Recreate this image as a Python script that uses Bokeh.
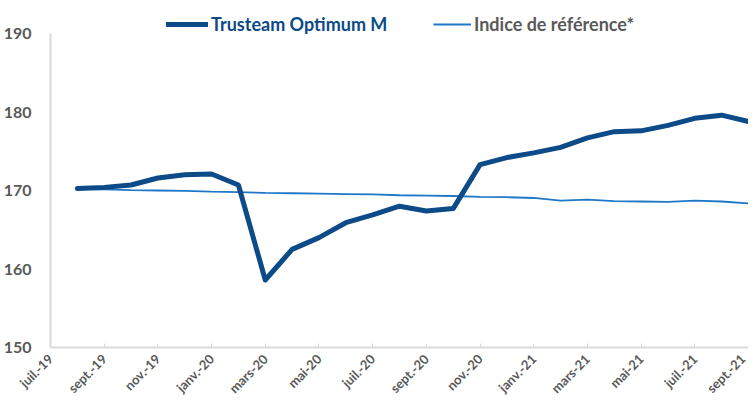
import math
from bokeh.plotting import figure
from bokeh.models import Range1d, FixedTicker, Legend, LegendItem, ColumnDataSource
from bokeh.embed import file_html
from bokeh.resources import INLINE

# Tick labels (every two months, starting juil.-19)
tick_labels = ["juil.-19", "sept.-19", "nov.-19", "janv.-20", "mars-20", "mai-20", "juil.-20",
               "sept.-20", "nov.-20", "janv.-21", "mars-21", "mai-21", "juil.-21", "sept.-21"]
y_ticks = [150, 160, 170, 180, 190]

# Monthly observations (août-19 .. sept.-21)
months = ["août-19", "sept.-19", "oct.-19", "nov.-19", "déc.-19", "janv.-20", "févr.-20", "mars-20",
          "avr.-20", "mai-20", "juin-20", "juil.-20", "août-20", "sept.-20", "oct.-20", "nov.-20",
          "déc.-20", "janv.-21", "févr.-21", "mars-21", "avr.-21", "mai-21", "juin-21", "juil.-21",
          "août-21", "sept.-21"]
fund = [170.25, 170.4, 170.7, 171.6, 172.0, 172.1, 170.7, 158.6, 162.5, 164.0, 165.9, 166.9,
        168.0, 167.4, 167.7, 173.3, 174.2, 174.8, 175.5, 176.7, 177.5, 177.6, 178.3, 179.2,
        179.6, 178.8]
benchmark = [170.2, 170.15, 170.05, 170.0, 169.95, 169.85, 169.8, 169.7, 169.65, 169.6, 169.55,
             169.5, 169.4, 169.35, 169.3, 169.2, 169.15, 169.05, 168.7, 168.85, 168.65, 168.6,
             168.55, 168.7, 168.6, 168.35]

# x position: month index counted from juil.-19
x = [i + 1 for i in range(len(months))]
src = ColumnDataSource(dict(x=x, fund=fund, bench=benchmark, month=months))

DARK = "#0C4A88"
LIGHT = "#1E78C8"
GRAY = "#595959"
FONT = "Lato"

p = figure(width=748, height=405, output_backend="svg", toolbar_location=None,
           x_range=Range1d(0, 26.0), y_range=Range1d(150, 193.7),
           min_border_left=48, min_border_right=0, min_border_top=4, min_border_bottom=58)
p.outline_line_color = None
p.background_fill_color = "white"
p.border_fill_color = "white"
p.xgrid.visible = False
p.ygrid.visible = False

r_b = p.line("x", "bench", source=src, line_color=LIGHT, line_width=1.8)
r_f = p.line("x", "fund", source=src, line_color=DARK, line_width=5, line_join="round", line_cap="round")

# y axis
p.yaxis.ticker = FixedTicker(ticks=y_ticks)
p.yaxis.bounds = (y_ticks[0], y_ticks[-1])
p.yaxis.axis_line_color = "#D9D9D9"
p.yaxis.axis_line_width = 2
p.yaxis.major_tick_line_color = None
p.yaxis.minor_tick_line_color = None
p.yaxis.major_label_text_font = FONT
p.yaxis.major_label_text_font_style = "bold"
p.yaxis.major_label_text_font_size = "16px"
p.yaxis.major_label_text_color = GRAY
p.yaxis.major_label_standoff = 13

# x axis
xt = list(range(0, 27, 2))
p.xaxis.ticker = FixedTicker(ticks=xt)
p.xaxis.major_label_overrides = {t: lab for t, lab in zip(xt, tick_labels)}
p.xaxis.major_label_orientation = math.pi / 4
p.xaxis.axis_line_color = "#D9D9D9"
p.xaxis.axis_line_width = 2
p.xaxis.major_tick_line_color = "#D9D9D9"
p.xaxis.major_tick_in = 4
p.xaxis.major_tick_out = 0
p.xaxis.minor_tick_line_color = None
p.xaxis.major_label_text_font = FONT
p.xaxis.major_label_text_font_style = "bold"
p.xaxis.major_label_text_font_size = "13px"
p.xaxis.major_label_text_color = GRAY
p.xaxis.major_label_standoff = 9

def make_legend(label, renderer, color, loc, gw):
    lg = Legend(items=[LegendItem(label=label, renderers=[renderer])], location=loc,
                orientation="horizontal", border_line_color=None, background_fill_alpha=0,
                padding=0, margin=0, glyph_width=gw, label_standoff=3,
                label_text_font=FONT, label_text_font_style="bold",
                label_text_font_size="18px", label_text_color=color)
    p.add_layout(lg, "center")

make_legend("Trusteam Optimum M", r_f, DARK, (116, 312), 42)
make_legend("Indice de référence*", r_b, GRAY, (383, 312), 38)

open("out.html", "w").write(file_html(p, INLINE))
